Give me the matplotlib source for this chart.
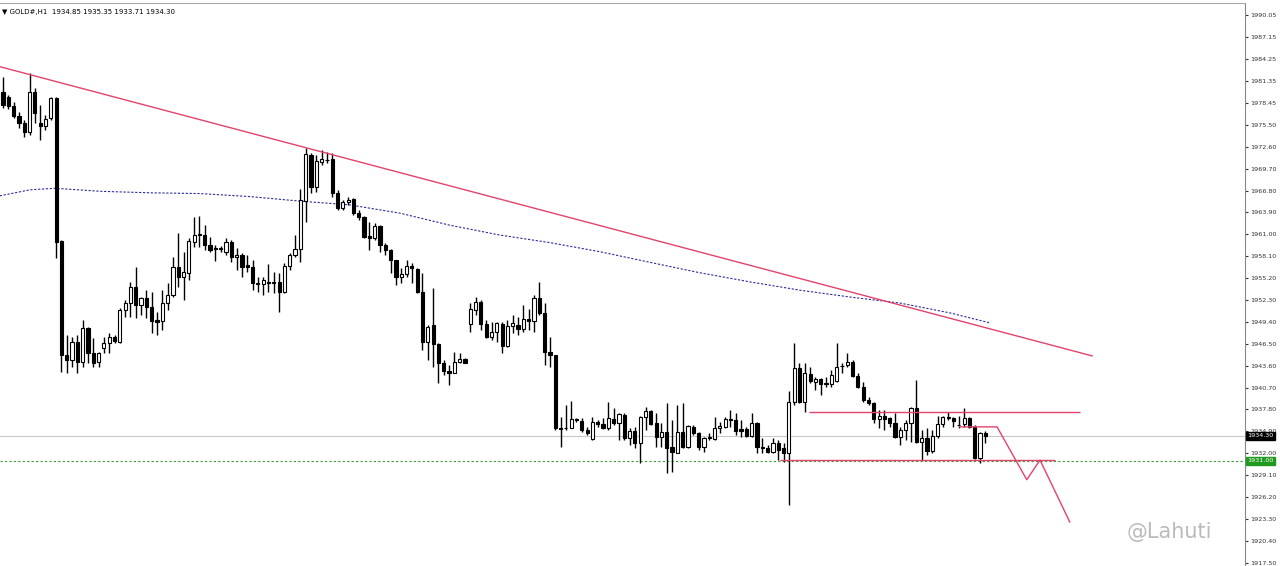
import matplotlib
matplotlib.use("Agg")
import matplotlib.pyplot as plt

# GOLD#, H1 - OHLC
opens = [
    1979.9, 1979.2, 1978.0, 1976.7, 1975.7, 1974.6, 1979.9, 1975.7, 1975.4, 1976.4,
    1979.1, 1960.1, 1945.0, 1944.4, 1946.7, 1944.1, 1948.6, 1945.3, 1944.1, 1945.9,
    1946.6, 1947.4, 1946.7, 1951.0, 1951.9, 1954.0, 1951.6, 1952.6, 1951.4, 1949.7,
    1949.5, 1951.9, 1953.0, 1956.7, 1955.3, 1955.9, 1960.0, 1960.9, 1960.9, 1959.6,
    1959.2, 1959.2, 1958.6, 1960.0, 1958.0, 1958.3, 1956.9, 1956.7, 1954.5, 1954.4,
    1954.7, 1954.7, 1954.7, 1953.4, 1956.8, 1958.3, 1959.0, 1965.4, 1971.5, 1967.3,
    1970.6, 1970.9, 1971.0, 1966.5, 1964.5, 1965.3, 1965.7, 1963.8, 1963.3, 1960.8,
    1960.5, 1962.1, 1959.6, 1958.9, 1957.6, 1955.3, 1955.7, 1956.8, 1956.4, 1953.4,
    1946.7, 1949.0, 1946.5, 1943.9, 1942.9, 1942.6, 1944.1, 1944.5, 1949.1, 1951.0,
    1952.0, 1949.1, 1947.4, 1948.1, 1949.1, 1946.2, 1948.9, 1949.0, 1948.5, 1949.8,
    1949.5, 1952.6, 1950.6, 1945.4, 1945.0, 1935.3, 1935.3, 1935.3, 1936.5, 1936.3,
    1935.1, 1933.9, 1936.1, 1935.9, 1935.3, 1936.5, 1936.0, 1937.1, 1934.0, 1935.0,
    1933.4, 1936.8, 1937.6, 1936.0, 1934.2, 1934.8, 1932.8, 1932.0, 1934.8, 1932.8,
    1935.5, 1934.7, 1932.8, 1934.0, 1933.9, 1935.3, 1935.5, 1936.5, 1936.4, 1935.2,
    1935.2, 1934.3, 1936.0, 1932.8, 1932.7, 1932.2, 1933.4, 1932.7, 1932.0, 1938.8,
    1943.3, 1938.8, 1942.5, 1941.4, 1941.8, 1941.3, 1941.2, 1941.6, 1943.6, 1943.7,
    1944.1, 1942.2, 1940.8, 1939.1, 1938.6, 1936.5, 1936.9, 1936.7, 1936.0, 1934.2,
    1935.1, 1936.0, 1938.0, 1933.5, 1934.0, 1932.3, 1934.3, 1935.9, 1936.8, 1936.7,
    1935.8, 1935.9, 1936.7, 1935.5, 1931.4, 1934.7,
]
highs = [
    1981.8, 1979.5, 1978.5, 1977.2, 1976.2, 1982.4, 1980.4, 1978.1, 1976.8, 1979.2,
    1979.2, 1960.2, 1947.7, 1947.4, 1947.7, 1949.7, 1948.7, 1947.3, 1945.4, 1947.4,
    1947.9, 1947.7, 1951.2, 1952.3, 1954.7, 1956.7, 1952.7, 1953.6, 1953.4, 1950.7,
    1953.6, 1954.6, 1958.0, 1961.2, 1958.6, 1960.5, 1963.3, 1963.4, 1962.2, 1960.6,
    1959.6, 1959.5, 1960.5, 1960.2, 1959.2, 1958.5, 1958.3, 1957.6, 1955.3, 1955.3,
    1957.1, 1956.0, 1955.9, 1957.2, 1958.5, 1960.9, 1967.0, 1972.4, 1971.8, 1971.5,
    1972.2, 1971.9, 1971.8, 1966.9, 1965.5, 1965.9, 1965.8, 1964.2, 1963.4, 1962.6,
    1962.5, 1962.2, 1959.8, 1959.0, 1957.6, 1956.5, 1957.6, 1957.2, 1956.5, 1955.9,
    1949.0, 1953.9, 1946.6, 1944.4, 1943.7, 1945.4, 1945.3, 1944.6, 1951.9, 1952.7,
    1952.3, 1949.7, 1949.4, 1949.4, 1949.4, 1949.7, 1950.3, 1950.0, 1951.6, 1951.1,
    1953.0, 1954.7, 1951.9, 1947.4, 1945.0, 1936.8, 1938.4, 1938.9, 1936.7, 1936.7,
    1935.5, 1936.8, 1936.4, 1936.7, 1938.8, 1938.0, 1937.3, 1937.3, 1935.3, 1935.5,
    1937.0, 1938.1, 1937.7, 1937.3, 1936.0, 1938.7, 1936.4, 1938.4, 1938.7, 1935.7,
    1935.7, 1934.8, 1934.2, 1934.7, 1936.8, 1936.1, 1936.8, 1937.7, 1937.3, 1936.4,
    1935.5, 1937.3, 1936.1, 1934.0, 1933.1, 1934.0, 1933.8, 1933.4, 1940.3, 1946.6,
    1943.9, 1943.9, 1943.4, 1942.1, 1942.0, 1942.1, 1943.0, 1946.6, 1944.0, 1945.3,
    1944.3, 1942.6, 1941.4, 1939.5, 1938.8, 1937.7, 1937.7, 1936.8, 1937.3, 1935.5,
    1936.4, 1938.1, 1941.7, 1935.1, 1935.3, 1935.1, 1937.0, 1937.0, 1937.5, 1936.8,
    1937.0, 1938.0, 1936.8, 1935.7, 1934.8, 1934.9,
]
lows = [
    1977.7, 1977.6, 1976.4, 1975.1, 1973.9, 1974.2, 1975.7, 1973.5, 1974.8, 1976.1,
    1957.9, 1942.8, 1942.6, 1943.4, 1942.6, 1943.4, 1943.9, 1943.4, 1943.4, 1945.3,
    1945.3, 1946.6, 1946.6, 1950.0, 1950.0, 1949.9, 1950.3, 1949.9, 1947.9, 1947.7,
    1948.3, 1951.0, 1952.7, 1954.0, 1952.3, 1954.9, 1959.3, 1959.3, 1958.9, 1958.6,
    1957.5, 1958.6, 1958.3, 1957.3, 1956.3, 1955.3, 1956.0, 1953.6, 1953.4, 1953.0,
    1953.4, 1953.2, 1950.7, 1953.2, 1956.3, 1958.0, 1957.3, 1962.6, 1966.5, 1966.6,
    1970.2, 1970.4, 1965.9, 1964.2, 1964.2, 1964.9, 1963.6, 1962.9, 1960.5, 1958.9,
    1960.2, 1958.6, 1958.3, 1955.9, 1954.3, 1954.5, 1955.3, 1954.5, 1953.2, 1945.7,
    1944.4, 1943.4, 1941.3, 1942.4, 1941.0, 1942.6, 1943.9, 1943.9, 1948.1, 1950.3,
    1948.3, 1947.3, 1947.0, 1946.7, 1945.3, 1946.1, 1947.9, 1947.7, 1948.1, 1948.3,
    1948.1, 1950.3, 1943.7, 1943.4, 1935.1, 1932.8, 1935.1, 1935.3, 1936.1, 1934.8,
    1934.4, 1933.8, 1935.5, 1935.2, 1935.1, 1935.7, 1933.8, 1933.8, 1933.1, 1932.7,
    1930.7, 1935.1, 1935.7, 1932.8, 1932.8, 1929.4, 1929.5, 1932.0, 1932.7, 1932.7,
    1934.4, 1932.4, 1932.2, 1933.8, 1933.8, 1934.7, 1935.3, 1935.5, 1934.4, 1934.2,
    1934.2, 1934.2, 1932.0, 1932.0, 1932.0, 1932.0, 1931.1, 1930.9, 1925.1, 1938.4,
    1938.7, 1937.5, 1941.3, 1940.4, 1939.7, 1940.8, 1940.8, 1941.4, 1942.6, 1943.4,
    1942.1, 1940.6, 1938.8, 1938.4, 1936.0, 1935.3, 1935.1, 1935.5, 1934.0, 1933.1,
    1933.8, 1933.5, 1933.4, 1931.1, 1931.8, 1932.0, 1934.0, 1935.5, 1936.4, 1935.5,
    1935.3, 1935.5, 1935.3, 1931.2, 1930.7, 1933.4,
]
closes = [
    1978.1, 1978.0, 1976.7, 1975.7, 1974.6, 1979.9, 1977.1, 1975.4, 1976.3, 1979.1,
    1960.0, 1945.0, 1944.4, 1946.7, 1944.1, 1948.6, 1945.3, 1943.9, 1945.3, 1946.6,
    1947.4, 1946.9, 1951.0, 1951.9, 1954.0, 1951.6, 1952.6, 1951.4, 1949.5, 1949.4,
    1951.9, 1953.0, 1956.7, 1955.3, 1956.0, 1960.1, 1960.9, 1960.9, 1959.6, 1958.9,
    1959.1, 1959.1, 1960.0, 1958.0, 1958.3, 1956.7, 1956.7, 1954.5, 1954.4, 1954.9,
    1954.6, 1954.6, 1953.4, 1956.8, 1958.3, 1959.0, 1965.5, 1971.6, 1967.3, 1970.7,
    1971.0, 1970.8, 1966.5, 1964.5, 1965.3, 1965.5, 1963.8, 1963.3, 1960.6, 1960.5,
    1962.1, 1959.6, 1958.9, 1957.6, 1955.3, 1955.7, 1956.8, 1956.5, 1953.4, 1946.7,
    1948.7, 1946.5, 1943.9, 1942.9, 1942.6, 1944.1, 1944.5, 1943.9, 1951.1, 1952.0,
    1949.1, 1947.4, 1948.1, 1949.3, 1946.2, 1948.9, 1949.3, 1948.5, 1949.8, 1949.5,
    1952.6, 1950.6, 1945.4, 1945.0, 1935.3, 1935.2, 1935.4, 1936.5, 1936.4, 1935.1,
    1934.7, 1936.1, 1935.9, 1935.3, 1936.7, 1936.0, 1937.2, 1934.0, 1935.0, 1933.4,
    1936.8, 1937.6, 1935.9, 1934.2, 1934.8, 1932.7, 1932.2, 1934.8, 1932.8, 1935.6,
    1934.7, 1932.8, 1934.0, 1934.1, 1935.3, 1935.6, 1936.5, 1936.4, 1935.0, 1935.0,
    1934.3, 1936.0, 1932.8, 1932.7, 1932.2, 1933.4, 1932.4, 1932.0, 1938.8, 1943.3,
    1938.8, 1942.6, 1941.6, 1941.8, 1941.2, 1941.2, 1942.4, 1943.4, 1943.5, 1944.1,
    1942.2, 1940.8, 1939.1, 1938.6, 1936.5, 1936.9, 1936.5, 1936.0, 1934.2, 1935.1,
    1936.0, 1938.0, 1933.5, 1934.0, 1932.3, 1934.3, 1935.9, 1936.8, 1936.7, 1936.3,
    1935.7, 1936.7, 1935.5, 1931.4, 1934.7, 1934.3,
]

# moving average (dotted blue), sampled at bar indices
ma_idx = [-0.6, 5.1, 9.8, 18.3, 27.7, 37.1, 46.5, 55.9, 65.3, 74.8, 84.2,
          93.6, 103.0, 112.4, 121.8, 131.3, 140.7, 150.1, 159.5, 168.9, 178.3, 185.7]
ma_val = [1966.1, 1966.9, 1967.1, 1966.7, 1966.5, 1966.4, 1966.0, 1965.4, 1964.9,
          1963.8, 1962.2, 1960.9, 1959.9, 1958.7, 1957.3, 1955.9, 1954.7, 1953.6,
          1952.7, 1951.9, 1950.6, 1949.3]

# drawn objects
trend_idx = [-0.56, 205.1]
trend_val = [1983.2, 1944.9]
box_top = (151.8, 202.8, 1937.5)
box_bottom = (146.3, 198.1, 1931.1)
path_idx = [180.2, 187.2, 192.8, 195.3, 200.9]
path_val = [1935.5, 1935.5, 1928.5, 1931.1, 1922.9]

last_price = 1934.30
alert_price = 1931.00
tick_labels = ["1990.05", "1987.15", "1984.25", "1981.35", "1978.45", "1975.50",
               "1972.60", "1969.70", "1966.80", "1963.90", "1961.00", "1958.10",
               "1955.20", "1952.30", "1949.40", "1946.50", "1943.60", "1940.70",
               "1937.80", "1934.90", "1932.00", "1929.10", "1926.20", "1923.30",
               "1920.40", "1917.50"]

fig = plt.figure(figsize=(12.8, 5.66), dpi=100)
ax = fig.add_axes([0.0, 0.0, 1245 / 1280, 563 / 566])
ax.set_xlim(-0.565, 233.9)
ax.set_ylim(1917.07, 1991.64)

# price lines
ax.axhline(last_price, color="#c8c8c8", lw=0.8, zorder=1)
ax.axhline(alert_price, color="#3a9a3a", lw=0.8, ls=(0, (2, 2)), zorder=1)

ax.plot(ma_idx, ma_val, color="#2b2b9a", lw=0.8, ls=(0, (2, 1.5)), zorder=2)

# candles
for i, (o, h, l, c) in enumerate(zip(opens, highs, lows, closes)):
    ax.vlines(i, l, h, color="black", lw=1, zorder=3)
    up = c > o
    body = max(abs(c - o), 0.08)
    ax.bar(i, body, bottom=min(o, c), width=0.6,
           facecolor="white" if up else "black", edgecolor="black",
           linewidth=0.8, zorder=4)

red = "#e2436b"
ax.plot(trend_idx, trend_val, color=red, lw=1, zorder=5)
ax.hlines(box_top[2], box_top[0], box_top[1], color=red, lw=1, zorder=5)
ax.hlines(box_bottom[2], box_bottom[0], box_bottom[1], color=red, lw=1, zorder=5)
ax.plot(path_idx, path_val, color=red, lw=1, zorder=5)

# right price scale
ax.yaxis.tick_right()
ax.set_yticks([float(t) for t in tick_labels])
ax.set_yticklabels(tick_labels)
ax.tick_params(axis="y", labelsize=4.6, length=2, pad=1.5, colors="#333333")
ax.set_xticks([])
for s in ["left", "bottom"]:
    ax.spines[s].set_visible(False)
ax.spines["right"].set_color("#888888")
ax.spines["top"].set_color("#aaaaaa")

for price, bg in [(last_price, "black"), (alert_price, "#1f9a1f")]:
    ax.text(1.002, price, f"{price:.2f}", transform=ax.get_yaxis_transform(),
            fontsize=4.6, color="white", va="center", ha="left",
            bbox=dict(boxstyle="square,pad=0.2", fc=bg, ec=bg), zorder=6)

ax.text(0.002, 0.99, "▼ GOLD#,H1  1934.85 1935.35 1933.71 1934.30",
        transform=ax.transAxes, fontsize=5, va="top", ha="left")
ax.text(0.905, 0.06, "@Lahuti", transform=ax.transAxes, fontsize=15,
        color="#bbbbbb", va="center", ha="left")

fig.savefig("out.png", dpi=100, facecolor="white")
